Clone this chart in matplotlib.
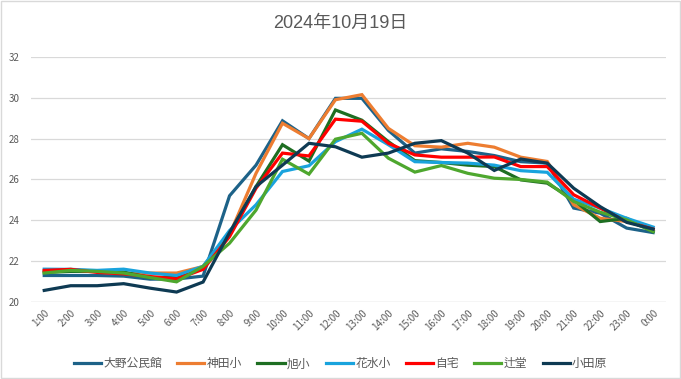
import matplotlib
matplotlib.use("Agg")
import matplotlib.pyplot as plt
from matplotlib.patches import Rectangle

plt.rcParams['font.family'] = ['Noto Sans CJK JP', 'DejaVu Sans']

hours = [f"{h}:00" for h in range(1, 24)] + ["0:00"]

oono = [21.3, 21.3, 21.3, 21.27, 21.12, 21.13, 21.27, 25.2, 26.7, 28.87, 28.0, 29.97,
        29.97, 28.4, 27.29, 27.5, 27.37, 27.17, 26.87, 26.8, 24.6, 24.35, 23.62, 23.4]
kanda = [21.5, 21.6, 21.5, 21.4, 21.42, 21.42, 21.74, 23.3, 26.3, 28.75, 28.0, 29.9,
         30.15, 28.5, 27.65, 27.58, 27.77, 27.58, 27.09, 26.88, 24.76, 24.1, 23.94, 23.57]
asahi = [21.45, 21.5, 21.5, 21.47, 21.2, 21.22, 21.7, 23.3, 25.65, 27.7, 26.9, 29.4,
         28.9, 27.85, 26.92, 26.83, 26.7, 26.63, 25.98, 25.82, 25.0, 23.94, 24.1, 23.45]
hanamizu = [21.61, 21.6, 21.55, 21.61, 21.42, 21.3, 21.75, 23.5, 24.76, 26.39, 26.67, 27.85,
            28.46, 27.7, 26.87, 26.83, 26.8, 26.7, 26.43, 26.35, 25.03, 24.6, 24.1, 23.67]
jitaku = [21.55, 21.6, 21.45, 21.38, 21.25, 21.13, 21.6, 23.2, 25.57, 27.29, 27.15, 28.95,
          28.85, 27.77, 27.2, 27.09, 27.09, 27.1, 26.63, 26.63, 25.25, 24.6, 23.94, 23.57]
tsujido = [21.42, 21.55, 21.5, 21.42, 21.2, 20.99, 21.75, 22.88, 24.5, 26.99, 26.26, 27.97,
           28.26, 27.04, 26.36, 26.68, 26.3, 26.06, 26.0, 25.87, 24.92, 24.4, 24.02, 23.45]
odawara = [20.57, 20.8, 20.8, 20.9, 20.68, 20.49, 20.98, 23.4, 25.65, 26.7, 27.77, 27.6,
           27.09, 27.29, 27.77, 27.9, 27.29, 26.44, 27.0, 26.8, 25.57, 24.67, 23.9, 23.57]

series = [
    ("大野公民館", oono, "#1D6288"),
    ("神田小", kanda, "#ED7D31"),
    ("旭小", asahi, "#1E6E22"),
    ("花水小", hanamizu, "#19A3DD"),
    ("自宅", jitaku, "#FF0000"),
    ("辻堂", tsujido, "#4EA72E"),
    ("小田原", odawara, "#0E3A53"),
]

fig = plt.figure(figsize=(6.81, 3.79), dpi=100)
ax = fig.add_axes([0.0455, 0.203, 0.933, 0.647])

x = range(len(hours))
for name, vals, col in series:
    ax.plot(x, vals, color=col, lw=2.3, label=name, solid_joinstyle="miter")

ax.set_xlim(-0.5, len(hours) - 0.5)
ax.set_ylim(20, 32)
ax.set_yticks(range(20, 33, 2))
ax.set_xticks(list(x))
ax.set_xticklabels(hours, rotation=45, ha="right", rotation_mode="anchor")
ax.tick_params(axis="both", length=0, labelsize=7, colors="#595959")
ax.tick_params(axis="y", pad=8)
ax.tick_params(axis="x", pad=4)
ax.grid(axis="y", color="#D9D9D9", lw=0.9)
ax.set_axisbelow(True)
for s in ax.spines.values():
    s.set_visible(False)
ax.axhline(20, color="#D9D9D9", lw=0.9, zorder=0)

fig.text(0.5, 0.938, "2024年10月19日", ha="center", va="center",
         fontsize=13, color="#595959", family=["Liberation Sans", "Noto Sans CJK JP"])

fig.legend(loc="center", bbox_to_anchor=(0.5, 0.04), ncol=7, frameon=False,
           fontsize=8.5, handlelength=2.3, handletextpad=0.2, columnspacing=1.3,
           labelcolor="#595959")

fig.patches.append(Rectangle((0.002, 0.003), 0.996, 0.994, transform=fig.transFigure,
                             fill=False, edgecolor="#D9D9D9", lw=1))

fig.savefig("out.png", dpi=100)
